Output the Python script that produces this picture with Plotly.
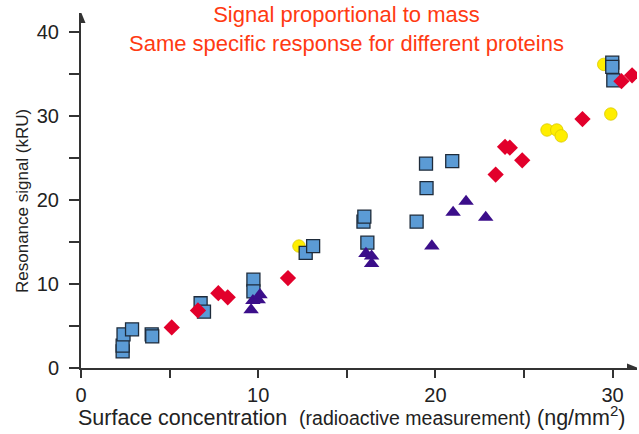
import plotly.graph_objects as go

# --- data ---
sq_x = [2.35, 2.35, 2.4, 2.88, 3.99, 4.02, 6.75, 6.94, 9.73, 9.73, 12.68, 13.1,
        15.94, 15.99, 16.16, 18.94, 19.47, 19.5, 20.95, 29.98, 29.98, 30.04]
sq_y = [1.97, 2.65, 4.0, 4.6, 4.0, 3.75, 7.7, 6.7, 10.5, 9.1, 13.7, 14.5,
        17.4, 18.0, 14.9, 17.4, 24.3, 21.4, 24.6, 36.3, 35.8, 34.2]

tri_x = [9.6, 9.7, 10.0, 10.1, 16.08, 16.4, 16.4, 19.8, 21.0, 21.73, 22.84]
tri_y = [6.9, 8.0, 8.1, 8.7, 13.6, 13.3, 12.4, 14.5, 18.5, 19.8, 17.9]

dia_x = [5.12, 6.6, 7.75, 8.28, 11.68, 23.4, 23.93, 24.2, 24.9, 28.3, 30.5, 31.1]
dia_y = [4.83, 6.85, 8.9, 8.4, 10.7, 23.0, 26.3, 26.2, 24.7, 29.6, 34.1, 34.8]

cir_x = [9.73, 12.3, 26.3, 26.85, 27.1, 29.5, 29.9]
cir_y = [10.0, 14.5, 28.3, 28.3, 27.6, 36.1, 30.2]

title_lines = ["Signal proportional to mass", "Same specific response for different proteins"]
x_ticks = [0, 10, 20, 30]
y_ticks = [0, 10, 20, 30, 40]

FONT = "Liberation Sans, Arial, sans-serif"
AXC = "#333333"

fig = go.Figure()
fig.add_trace(go.Scatter(x=cir_x, y=cir_y, mode="markers",
                         marker=dict(symbol="circle", size=12.5, color="#ffee00",
                                     line=dict(color="#d9c900", width=0.8))))
fig.add_trace(go.Scatter(x=sq_x, y=sq_y, mode="markers",
                         marker=dict(symbol="square", size=13, color="#5b9bd5",
                                     line=dict(color="#1e2b3a", width=1.3))))
fig.add_trace(go.Scatter(x=tri_x, y=tri_y, mode="markers",
                         marker=dict(symbol="triangle-up", size=13.5, color="#3b0e8a",
                                     line=dict(width=0))))
fig.add_trace(go.Scatter(x=dia_x, y=dia_y, mode="markers",
                         marker=dict(symbol="diamond", size=12.5, color="#e2002b",
                                     line=dict(width=0))))

xmax = 556 / 17.72
ymax = 355 / 8.41

fig.update_layout(
    width=639, height=434,
    margin=dict(l=81, r=2, t=13, b=66),
    paper_bgcolor="white", plot_bgcolor="white",
    showlegend=False,
    font=dict(family=FONT, color="#222222"),
    xaxis=dict(range=[0, xmax], showgrid=False, zeroline=False,
               showline=True, linecolor=AXC, linewidth=2,
               ticks="outside", ticklen=8, tickwidth=2, tickcolor=AXC,
               tickvals=x_ticks, ticktext=[str(v) for v in x_ticks],
               tickfont=dict(size=20, family=FONT, color="#222222"),
               ticklabelstandoff=0,
               minor=dict(tickvals=[5, 15, 25], ticks="outside", ticklen=8,
                          tickwidth=2, tickcolor=AXC)),
    yaxis=dict(range=[0, ymax], showgrid=False, zeroline=False,
               showline=True, linecolor=AXC, linewidth=2,
               ticks="outside", ticklen=10, tickwidth=2, tickcolor=AXC,
               tickvals=y_ticks, ticktext=[str(v) for v in y_ticks],
               tickfont=dict(size=20, family=FONT, color="#222222"),
               ticklabelstandoff=6,
               minor=dict(tickvals=[5, 15, 25, 35], ticks="outside", ticklen=10,
                          tickwidth=2, tickcolor=AXC)),
)

# axis arrowheads (pixel-sized shapes anchored at the axis ends)
fig.add_shape(type="path", xref="x", yref="y", xsizemode="pixel", ysizemode="pixel",
              xanchor=xmax, yanchor=0, path="M1,0 L-10,4.5 L-10,-4.5 Z",
              fillcolor=AXC, line=dict(width=0), layer="above")
fig.add_shape(type="path", xref="x", yref="y", xsizemode="pixel", ysizemode="pixel",
              xanchor=0, yanchor=ymax, path="M0,1 L-4.5,-10 L4.5,-10 Z",
              fillcolor=AXC, line=dict(width=0), layer="above")

# title
fig.add_annotation(xref="paper", yref="paper", x=(346 - 81) / 556, y=(368 - 29) / 355,
                   xanchor="center", yanchor="middle", showarrow=False,
                   text="<br>".join(title_lines),
                   font=dict(size=22, color="#ff3a12", family=FONT), align="center")

# axis titles
fig.add_annotation(xref="paper", yref="paper", x=0, y=(368 - 201) / 355,
                   xshift=-59, xanchor="center", yanchor="middle", showarrow=False,
                   textangle=-90, text="Resonance signal (kRU)",
                   font=dict(size=17, color="#222222", family=FONT))
fig.add_annotation(xref="paper", yref="paper", x=(351 - 81) / 556, y=0, yshift=-48,
                   xanchor="center", yanchor="middle", showarrow=False,
                   text=("Surface concentration&nbsp;&nbsp;<span style='font-size:19.5px'>"
                         "(radioactive measurement)</span> (ng/mm<sup>2</sup>)"),
                   font=dict(size=21.5, color="#222222", family=FONT))

fig.write_html("out.html")
